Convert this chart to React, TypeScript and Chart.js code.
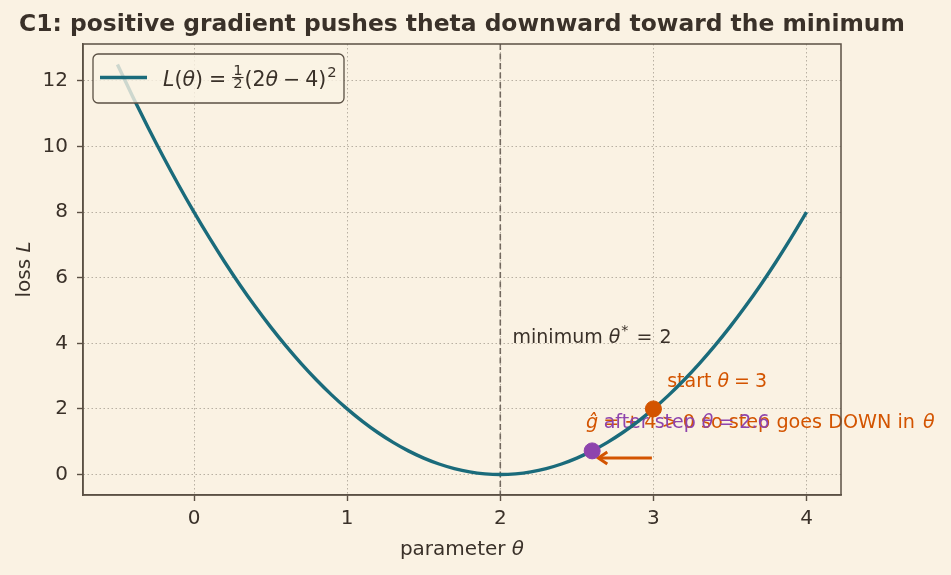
import { useEffect, useRef } from "react";
import { Chart, registerables } from "chart.js";

Chart.register(...registerables);

// Sampled loss curve L(theta) over the plotted parameter range
const thetaGrid = [
  -0.5, -0.4, -0.3, -0.2, -0.1, 0.0, 0.1, 0.2, 0.3, 0.4, 0.5, 0.6, 0.7, 0.8, 0.9,
  1.0, 1.1, 1.2, 1.3, 1.4, 1.5, 1.6, 1.7, 1.8, 1.9, 2.0, 2.1, 2.2, 2.3, 2.4, 2.5,
  2.6, 2.7, 2.8, 2.9, 3.0, 3.1, 3.2, 3.3, 3.4, 3.5, 3.6, 3.7, 3.8, 3.9, 4.0,
];
const lossValues = [
  12.5, 11.52, 10.58, 9.68, 8.82, 8.0, 7.22, 6.48, 5.78, 5.12, 4.5, 3.92, 3.38, 2.88, 2.42,
  2.0, 1.62, 1.28, 0.98, 0.72, 0.5, 0.32, 0.18, 0.08, 0.02, 0.0, 0.02, 0.08, 0.18, 0.32, 0.5,
  0.72, 0.98, 1.28, 1.62, 2.0, 2.42, 2.88, 3.38, 3.92, 4.5, 5.12, 5.78, 6.48, 7.22, 8.0,
];

// Key points of the single gradient step
const startPoint = [3.0, 2.0];
const stepPoint = [2.6, 0.72];
const minimumTheta = 2;
const arrowTail = [2.99, 0.5];
const arrowHead = [2.64, 0.5];

// Annotation anchors (theta, loss)
const minimumLabelAt = [2.08, 4.02];
const startLabelAt = [3.09, 2.68];
const gradLabelAt = [2.56, 1.43];
const stepLabelAt = [2.675, 1.43];

const xTicks = [0, 1, 2, 3, 4];
const yTicks = [0, 2, 4, 6, 8, 10, 12];
const xRange = [-0.725, 4.225];
const yRange = [-0.625, 13.125];

const titleText = "C1: positive gradient pushes theta downward toward the minimum";

const BG = "#faf2e3";
const INK = "#3a3129";
const SPINE = "#5b5044";
const GRID = "#b8b0a2";
const TEAL = "#1a6b7b";
const ORANGE = "#d35400";
const PURPLE = "#8e44ad";
const FONT = '"DejaVu Sans"';

type Run = { t: string; it?: boolean; scale?: number; dy?: number; gap?: number; bold?: boolean };

function drawRuns(ctx: CanvasRenderingContext2D, runs: Run[], x: number, y: number, size: number, color: string) {
  let cx = x;
  ctx.save();
  ctx.fillStyle = color;
  ctx.textBaseline = "alphabetic";
  ctx.textAlign = "left";
  for (const r of runs) {
    const s = size * (r.scale ?? 1);
    ctx.font = `${r.it ? "italic " : ""}${r.bold ? "bold " : ""}${s}px ${FONT}`;
    ctx.fillText(r.t, cx, y + (r.dy ?? 0));
    cx += ctx.measureText(r.t).width + (r.gap ?? 0);
  }
  ctx.restore();
  return cx - x;
}

const decorPlugin = {
  id: "decor",
  beforeDraw(chart: any) {
    const { ctx, width, height } = chart;
    ctx.save();
    ctx.fillStyle = BG;
    ctx.fillRect(0, 0, width, height);
    ctx.restore();
  },
  beforeDatasetsDraw(chart: any) {
    const { ctx, chartArea, scales } = chart;
    const xs = scales.x;
    const ys = scales.y;
    // vertical dashed marker at the minimum
    const mx = xs.getPixelForValue(minimumTheta);
    ctx.save();
    ctx.strokeStyle = "rgba(95,86,76,0.85)";
    ctx.lineWidth = 1.6;
    ctx.setLineDash([6, 3.5]);
    ctx.beginPath();
    ctx.moveTo(mx, chartArea.top);
    ctx.lineTo(mx, chartArea.bottom);
    ctx.stroke();
    ctx.restore();

    const size = 19;
    // minimum label
    drawRuns(
      ctx,
      [
        { t: "minimum " },
        { t: "θ", it: true, gap: 1 },
        { t: "*", scale: 0.75, dy: -8, gap: 8 },
        { t: "=", gap: 7 },
        { t: "2" },
      ],
      xs.getPixelForValue(minimumLabelAt[0]),
      ys.getPixelForValue(minimumLabelAt[1]),
      size,
      INK
    );
    // start label
    drawRuns(
      ctx,
      [{ t: "start " }, { t: "θ", it: true, gap: 5 }, { t: "=", gap: 5 }, { t: "3" }],
      xs.getPixelForValue(startLabelAt[0]),
      ys.getPixelForValue(startLabelAt[1]),
      size,
      ORANGE
    );
    // gradient sign label
    drawRuns(
      ctx,
      [
        { t: "ĝ", it: true, gap: 5 },
        { t: "=", gap: 5 },
        { t: "+", gap: 4 },
        { t: "4", gap: 5 },
        { t: ">", gap: 5 },
        { t: "0 so step goes DOWN in ", gap: 2 },
        { t: "θ", it: true },
      ],
      xs.getPixelForValue(gradLabelAt[0]),
      ys.getPixelForValue(gradLabelAt[1]),
      size * 1.01,
      ORANGE
    );
    // after-step label
    drawRuns(
      ctx,
      [{ t: "after step " }, { t: "θ", it: true, gap: 5 }, { t: "=", gap: 5 }, { t: "2.6" }],
      xs.getPixelForValue(stepLabelAt[0]),
      ys.getPixelForValue(stepLabelAt[1]),
      size,
      PURPLE
    );

    // step arrow
    const tx = xs.getPixelForValue(arrowTail[0]);
    const ty = ys.getPixelForValue(arrowTail[1]);
    const hx = xs.getPixelForValue(arrowHead[0]);
    const hy = ys.getPixelForValue(arrowHead[1]);
    ctx.save();
    ctx.strokeStyle = ORANGE;
    ctx.lineWidth = 3;
    ctx.lineCap = "butt";
    ctx.beginPath();
    ctx.moveTo(tx, ty);
    ctx.lineTo(hx + 1, hy);
    ctx.stroke();
    ctx.lineJoin = "miter";
    ctx.beginPath();
    ctx.moveTo(hx + 9, hy - 6);
    ctx.lineTo(hx, hy);
    ctx.lineTo(hx + 9, hy + 6);
    ctx.stroke();
    ctx.restore();
  },
  afterDraw(chart: any) {
    const { ctx, chartArea } = chart;
    const { left, right, top, bottom } = chartArea;
    ctx.save();
    // full frame
    ctx.strokeStyle = SPINE;
    ctx.lineWidth = 1.5;
    ctx.strokeRect(left, top, right - left, bottom - top);

    // title
    ctx.fillStyle = INK;
    ctx.font = `bold 23.4px ${FONT}`;
    ctx.textAlign = "center";
    ctx.textBaseline = "alphabetic";
    ctx.fillText(titleText, (left + right) / 2, 31);

    // axis titles
    const axSize = 20;
    ctx.font = `${axSize}px ${FONT}`;
    const w1 = ctx.measureText("parameter ").width;
    ctx.font = `italic ${axSize}px ${FONT}`;
    const w2 = ctx.measureText("θ").width;
    drawRuns(ctx, [{ t: "parameter " }, { t: "θ", it: true }], (left + right) / 2 - (w1 + w2) / 2, 555, axSize, INK);

    ctx.save();
    ctx.translate(30, (top + bottom) / 2);
    ctx.rotate(-Math.PI / 2);
    ctx.font = `${axSize}px ${FONT}`;
    const w3 = ctx.measureText("loss ").width;
    ctx.font = `italic ${axSize}px ${FONT}`;
    const w4 = ctx.measureText("L").width;
    drawRuns(ctx, [{ t: "loss " }, { t: "L", it: true }], -(w3 + w4) / 2, 0, axSize, INK);
    ctx.restore();

    // legend
    const bx = 93, by = 54, bw = 251, bh = 49;
    ctx.beginPath();
    ctx.roundRect(bx, by, bw, bh, 5);
    ctx.fillStyle = "rgba(250,242,227,0.8)";
    ctx.fill();
    ctx.strokeStyle = SPINE;
    ctx.lineWidth = 1.3;
    ctx.stroke();

    ctx.strokeStyle = TEAL;
    ctx.lineWidth = 3.4;
    ctx.beginPath();
    ctx.moveTo(100, 77.5);
    ctx.lineTo(147, 77.5);
    ctx.stroke();

    const ls = 20.5;
    const baseY = 86;
    let cx = 163;
    cx += drawRuns(
      ctx,
      [{ t: "L", it: true }, { t: "(" }, { t: "θ", it: true }, { t: ")", gap: 6 }, { t: "=", gap: 6 }],
      cx,
      baseY,
      ls,
      INK
    );
    // one half as a stacked fraction
    ctx.font = `${ls * 0.72}px ${FONT}`;
    const fw = ctx.measureText("1").width;
    ctx.fillStyle = INK;
    ctx.textAlign = "left";
    ctx.fillText("1", cx + 1, baseY - 11.5);
    ctx.fillText("2", cx + 1, baseY + 1.5);
    ctx.fillRect(cx, baseY - 9, fw + 2, 1.1);
    cx += fw + 3;
    cx += drawRuns(
      ctx,
      [{ t: "(2" }, { t: "θ", it: true, gap: 5 }, { t: "−", gap: 5 }, { t: "4)" }],
      cx,
      baseY,
      ls,
      INK
    );
    drawRuns(ctx, [{ t: "2", scale: 0.72 }], cx + 1, baseY - 9.5, ls, INK);
    ctx.restore();
  },
};

export default function App() {
  const canvasRef = useRef<HTMLCanvasElement | null>(null);

  useEffect(() => {
    document.body.style.margin = "0";
    document.body.style.background = BG;
    const canvas = canvasRef.current;
    if (!canvas) return;

    const curve = thetaGrid.map((t, i) => ({ x: t, y: lossValues[i] }));

    const gridCfg = {
      color: GRID,
      lineWidth: 1,
      tickColor: SPINE,
      tickLength: 6,
      tickWidth: 1.4,
      tickBorderDash: [],
      drawTicks: true,
    };
    const borderCfg = { display: true, color: SPINE, width: 1.5, dash: [1.5, 2.5] };

    const chart = new Chart(canvas, {
      type: "line",
      data: {
        datasets: [
          {
            label: "start",
            data: [{ x: startPoint[0], y: startPoint[1] }],
            showLine: false,
            pointRadius: 8,
            pointBackgroundColor: ORANGE,
            pointBorderColor: ORANGE,
            order: 0,
          },
          {
            label: "after",
            data: [{ x: stepPoint[0], y: stepPoint[1] }],
            showLine: false,
            pointRadius: 8,
            pointBackgroundColor: PURPLE,
            pointBorderColor: PURPLE,
            order: 0,
          },
          {
            label: "loss",
            data: curve,
            borderColor: TEAL,
            borderWidth: 3.4,
            pointRadius: 0,
            cubicInterpolationMode: "monotone",
            fill: false,
            order: 2,
          },
        ],
      },
      options: {
        responsive: false,
        animation: false,
        devicePixelRatio: 1,
        events: [],
        layout: { padding: { left: 0, right: 110, top: 44, bottom: 0 } },
        plugins: {
          legend: { display: false },
          tooltip: { enabled: false },
          title: { display: false },
        },
        scales: {
          x: {
            type: "linear",
            min: xRange[0],
            max: xRange[1],
            afterBuildTicks: (s: any) => {
              s.ticks = xTicks.map((v) => ({ value: v }));
            },
            afterFit: (s: any) => {
              s.height = 80;
            },
            grid: gridCfg,
            border: borderCfg,
            ticks: {
              color: INK,
              font: { family: "DejaVu Sans", size: 20 },
              padding: 6,
              maxRotation: 0,
              autoSkip: false,
            },
          },
          y: {
            type: "linear",
            min: yRange[0],
            max: yRange[1],
            afterBuildTicks: (s: any) => {
              s.ticks = yTicks.map((v) => ({ value: v }));
            },
            afterFit: (s: any) => {
              s.width = 83;
            },
            grid: gridCfg,
            border: borderCfg,
            ticks: {
              color: INK,
              font: { family: "DejaVu Sans", size: 20 },
              padding: 9,
              autoSkip: false,
            },
          },
        },
      },
      plugins: [decorPlugin],
    } as any);

    return () => chart.destroy();
  }, []);

  return <canvas ref={canvasRef} width={951} height={575} style={{ display: "block" }} />;
}
